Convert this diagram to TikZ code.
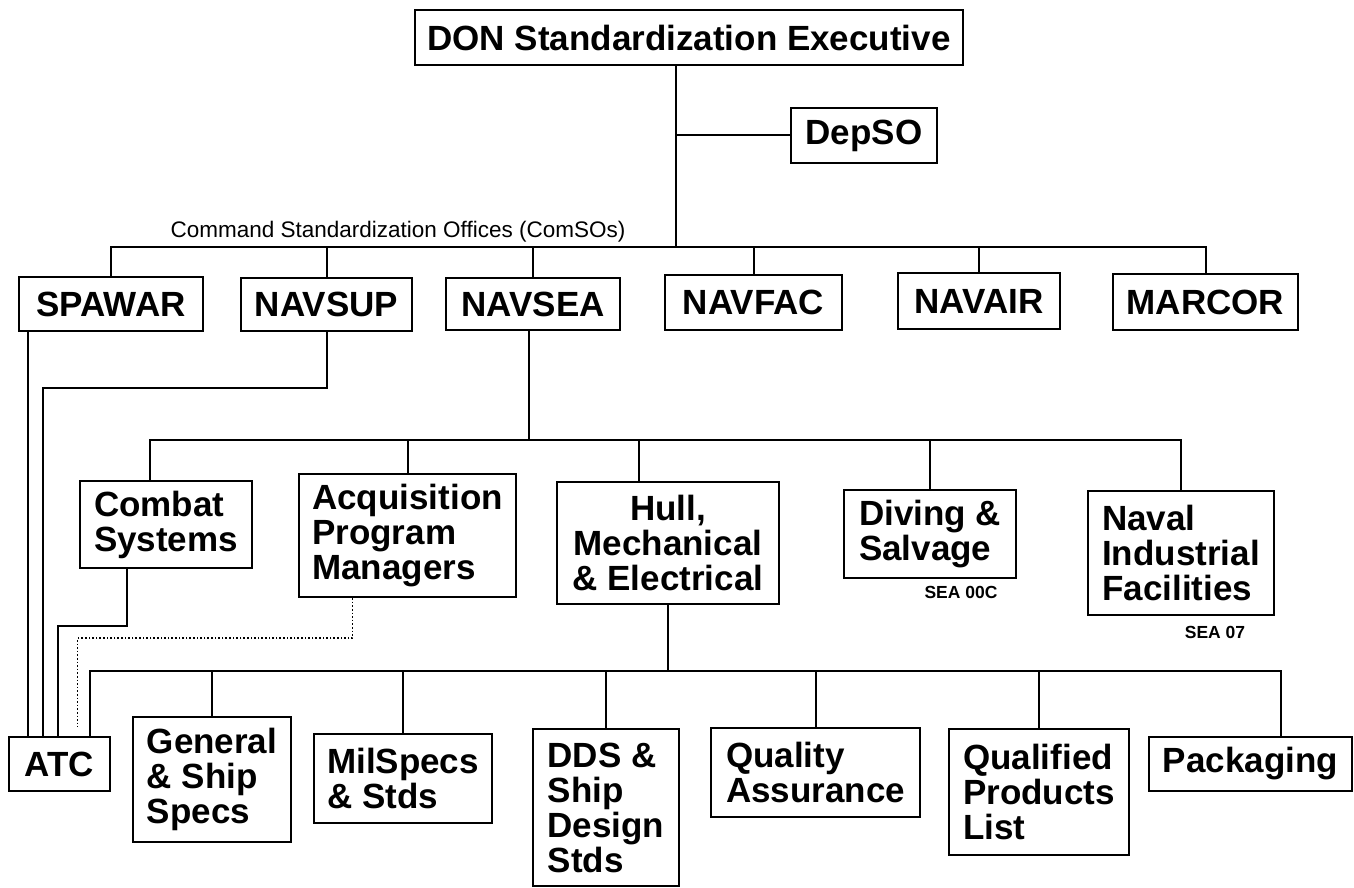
\documentclass[tikz,border=0pt]{standalone}
\usepackage{fontspec}
\setmainfont{Liberation Sans}
\usetikzlibrary{positioning}

\begin{document}
\begin{tikzpicture}[
  x=1pt, y=-1pt,
  unit/.style={
    rectangle, draw, line width=2.2pt,
    inner sep=0pt, align=left,
    font=\fontsize{35}{35}\selectfont\bfseries
  },
  box/.style 2 args={minimum width=#1pt, minimum height=#2pt},
  link/.style={line width=2pt},
  dotlink/.style={line width=1.6pt, dotted},
  code/.style={font=\fontsize{17.5}{18}\selectfont\bfseries},
]
\useasboundingbox (0,0) rectangle (1354,888);

% top level
\node[unit, box={548}{55}] (exec) at (689,37.5) {DON Standardization Executive};
\node[unit, box={146}{55}] (depso) at (864,135.5) {DepSO};

% command standardization offices
\node[font=\fontsize{22.5}{24}\selectfont] (comsos) at (398,232) {Command Standardization Offices (ComSOs)};
\node[unit, box={184}{54}] (spawar) at (111,304) {SPAWAR};
\node[unit, box={171}{53}] (navsup) at (326.5,304.5) {NAVSUP};
\node[unit, box={174}{52}] (navsea) at (533,304) {NAVSEA};
\node[unit, box={177}{55}] (navfac) at (753.5,302.5) {NAVFAC};
\node[unit, box={162}{56}] (navair) at (979,301) {NAVAIR};
\node[unit, box={185}{56}] (marcor) at (1205.5,302) {MARCOR};

% NAVSEA groups
\node[unit, box={172}{87}] (combat) at (166,524.5) {Combat\\Systems};
\node[unit, box={217}{123}] (apm) at (407.5,535.5) {Acquisition\\Program\\Managers};
\node[unit, box={222}{122}, align=center] (hme) at (668,543) {Hull,\\Mechanical\\\& Electrical};
\node[unit, box={172}{88}] (diving) at (930,534) {Diving \&\\Salvage};
\node[unit, box={186}{124}] (nif) at (1181,553) {Naval\\Industrial\\Facilities};
\node[code] (sea00c) at (961,592) {SEA 00C};
\node[code] (sea07) at (1215,632) {SEA 07};

% HM&E groups
\node[unit, box={101}{54}] (atc) at (59.5,764) {ATC};
\node[unit, box={158}{125}] (gen) at (212,779.5) {General\\\& Ship\\Specs};
\node[unit, box={178}{89}] (milspec) at (403,778.5) {MilSpecs\\\& Stds};
\node[unit, box={146}{157}] (dds) at (606,807.5) {DDS \&\\Ship\\Design\\Stds};
\node[unit, box={209}{89}] (qa) at (815.5,772.5) {Quality\\Assurance};
\node[unit, box={180}{126}] (qpl) at (1039,792) {Qualified\\Products\\List};
\node[unit, box={203}{54}] (pack) at (1250.5,764) {Packaging};

% bus junctions
\coordinate (hub) at (676,247);
\coordinate (seabus) at (529,440);
\coordinate (hmebus) at (667,671);

\draw[link] ([xshift=-13pt]exec.south) -- (hub);
\draw[link] (depso.west) -- (depso.west -| hub);
\draw[link] (spawar.north) |- (hub) -| (marcor.north);
\foreach \n in {navsup,navsea,navfac,navair}
  \draw[link] (\n.north) -- (\n.north |- hub);

\draw[link] ([xshift=-4pt]navsea.south) -- (seabus);
\draw[link] ([xshift=-16pt]combat.north) |- (seabus) -| (nif.north);
\foreach \n in {apm,diving}
  \draw[link] (\n.north) -- (\n.north |- seabus);
\draw[link] ([xshift=-29pt]hme.north) -- ([xshift=-29pt]hme.north |- seabus);

\draw[link] (hme.south) -- (hme.south |- hmebus);
\draw[link] ([xshift=30pt]atc.north) |- (hmebus) -| ([xshift=30pt]pack.north);
\foreach \n in {gen,milspec,dds,qa,qpl}
  \draw[link] (\n.north) -- (\n.north |- hmebus);

% feeds into ATC
\draw[link] ([xshift=-32pt]atc.north) -- ([xshift=-32pt]atc.north |- spawar.south);
\draw[link] (navsup.south) -- ++(0,56) -| ([xshift=-17pt]atc.north);
\draw[link] ([xshift=-39pt]combat.south) -- ++(0,57) -| ([xshift=-2pt]atc.north);
\draw[dotlink, shorten >=9pt] ([xshift=-55pt]apm.south) -- ++(0,40) -| ([xshift=18pt]atc.north);

\end{tikzpicture}
\end{document}
